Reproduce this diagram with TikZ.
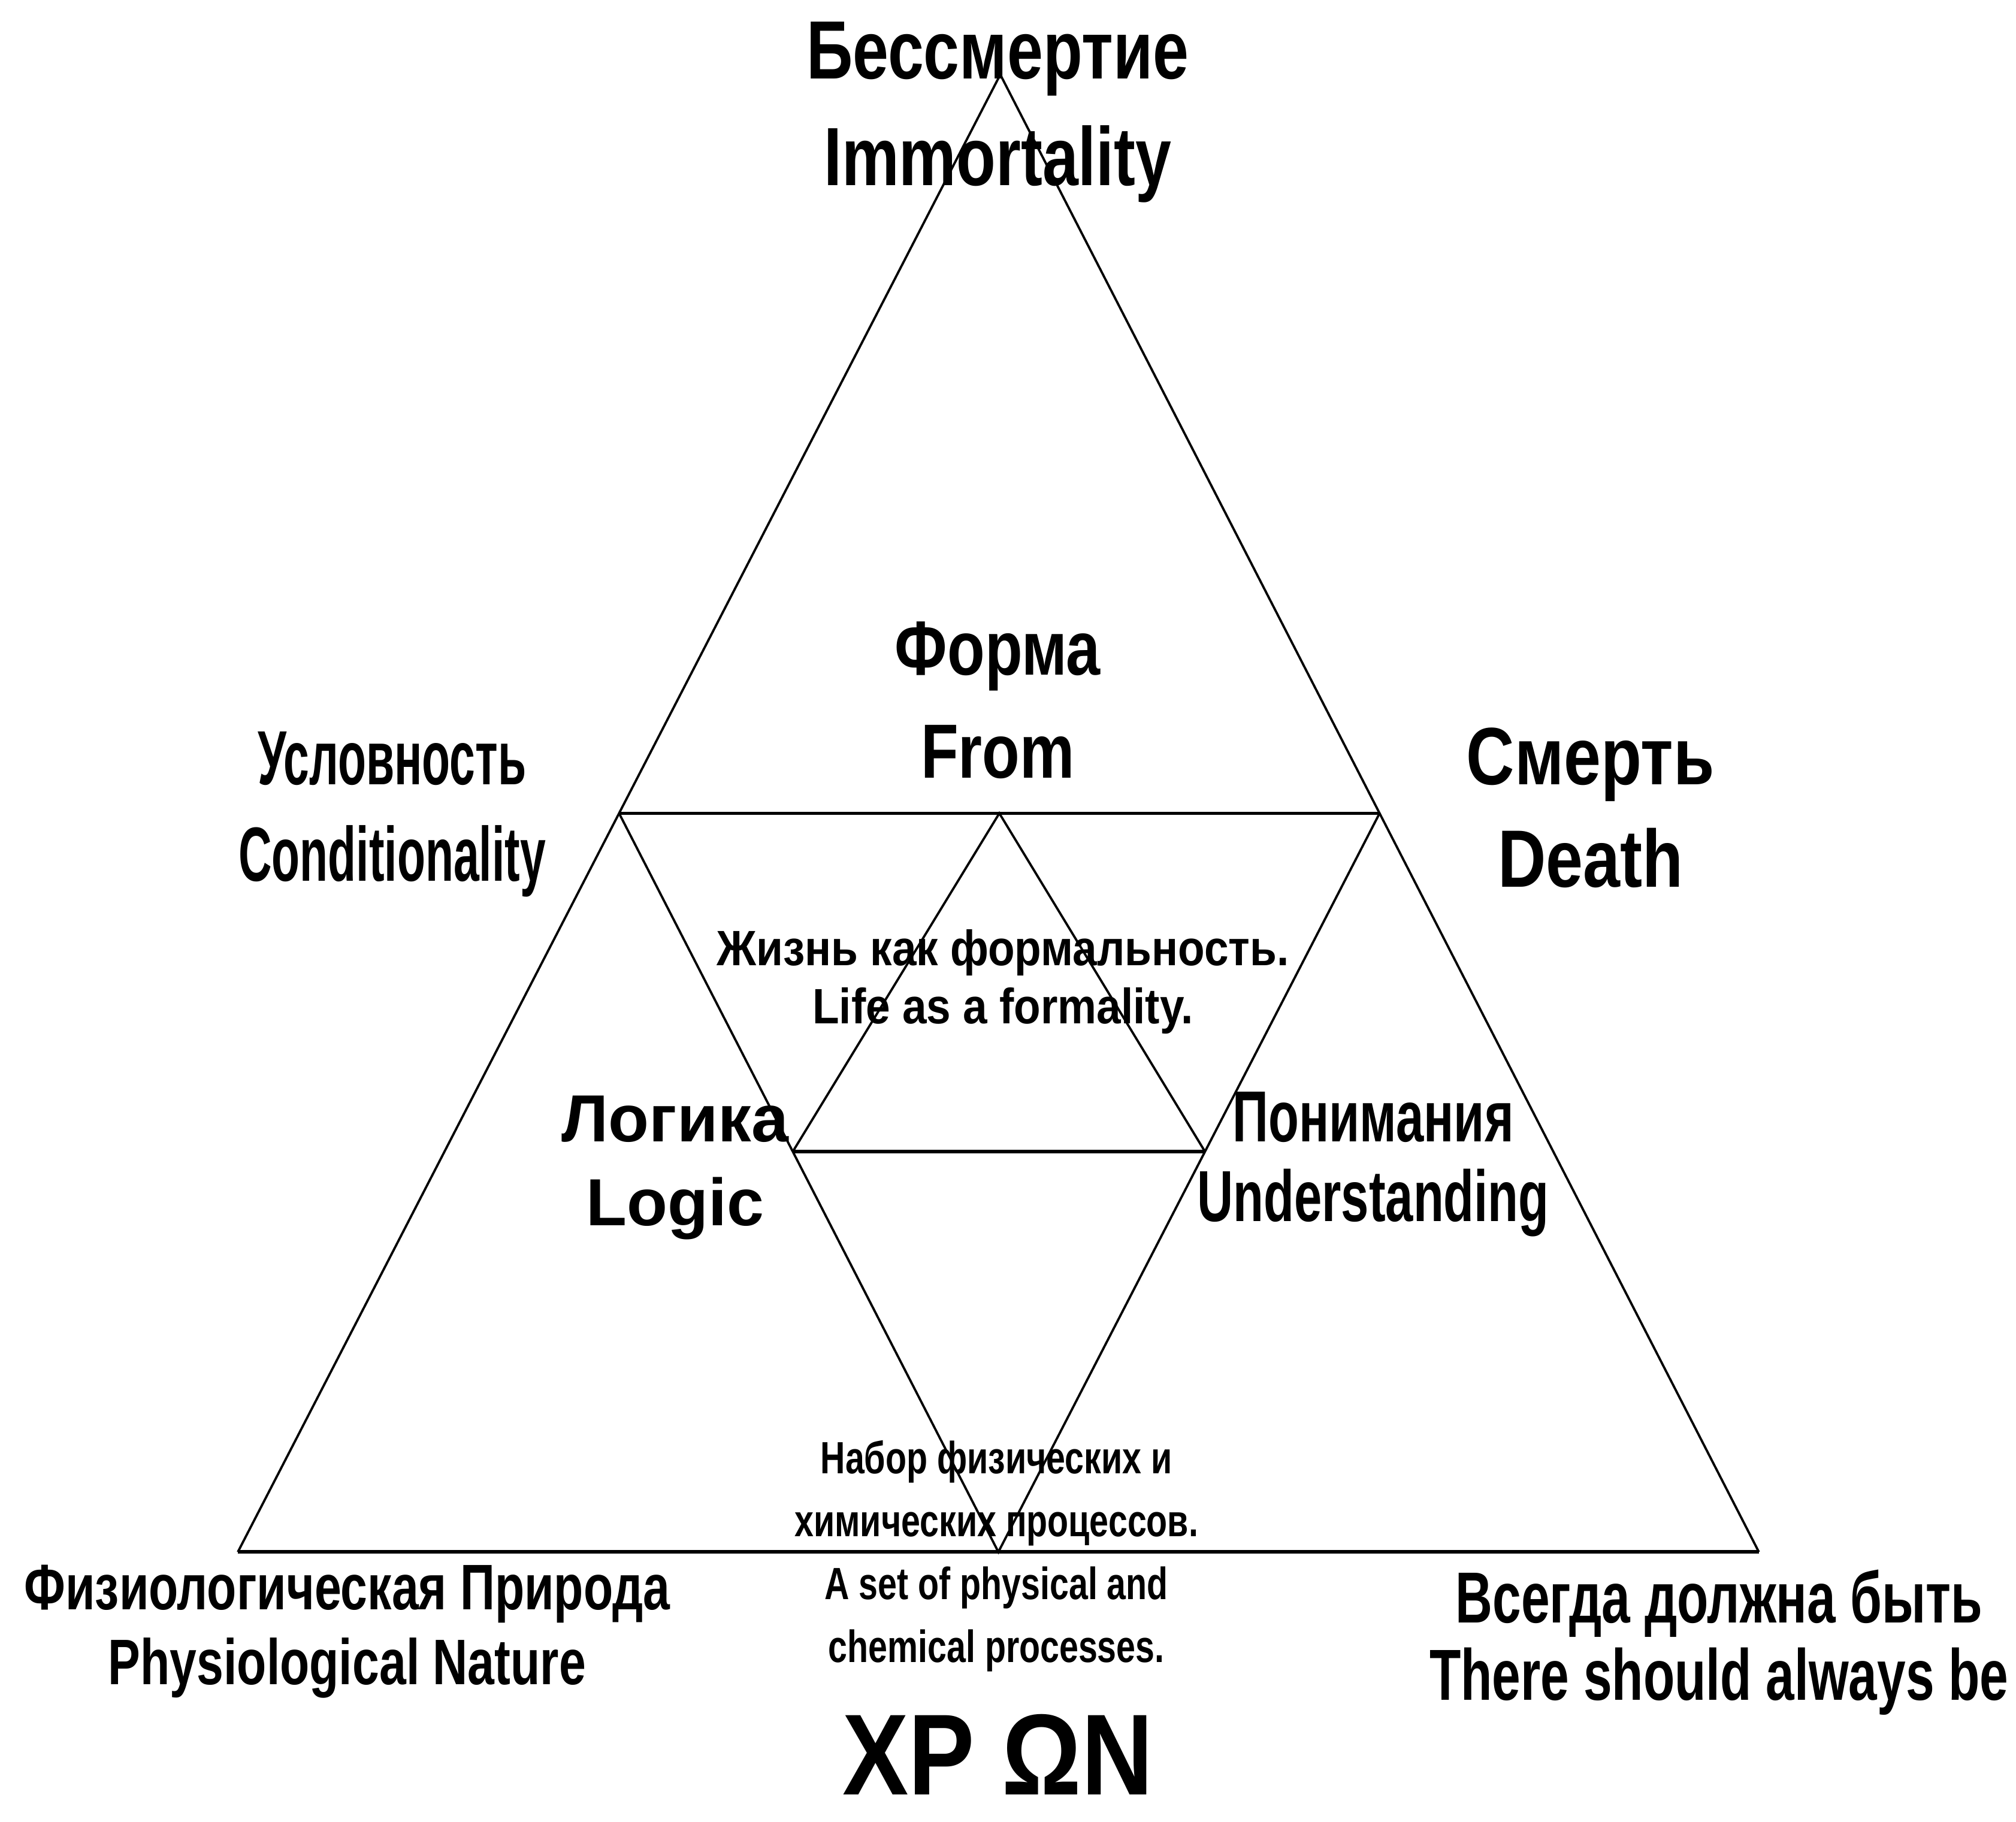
\documentclass[tikz,border=0pt]{standalone}
\usepackage{fontspec}
\setmainfont{Liberation Sans}
\usetikzlibrary{calc}
\newcommand\lblfont[3]{\fontsize{#2pt}{#3pt}\selectfont\bfseries\addfontfeature{FakeStretch=#1}}
\tikzset{
  txt/.style n args={3}{font=\lblfont{#1}{#2}{#3}, align=center, inner sep=0pt, anchor=base},
  side/.style={line width=1pt},
  flat/.style={line width=1.5pt}
}

\begin{document}
\begin{tikzpicture}[x=0.02cm, y=-0.02cm]
\useasboundingbox (0,0) rectangle (1568,1417);
% Corners
\coordinate (top) at (778,58);
\coordinate (left) at (185,1207);
\coordinate (right) at (1368,1207);
\coordinate (midL) at ($(top)!0.5!(left)$);
\coordinate (midR) at ($(top)!0.5!(right)$);
\coordinate (midB) at ($(left)!0.5!(right)$);
\coordinate (midT) at ($(midL)!0.5!(midR)$);
\coordinate (cutL) at ($(midL)!0.458!(midB)$);
\coordinate (cutR) at ($(midR)!0.458!(midB)$);

% Labels (placed at the baseline of their last line)
\node (immortal) [txt={0.78}{36.6}{47.2}] at (776,144) {Бессмертие\\Immortality};
\node (form) [txt={0.8}{34}{45.5}] at (776,605) {Форма\\From};
\node (cond) [txt={0.6}{34}{42.7}] at (305,685) {Условность\\Conditionality};
\node (death) [txt={0.82}{36}{45.5}] at (1237,690) {Смерть\\Death};
\node (life) [txt={0.88}{22}{25.6}] at (780,796) {Жизнь как формальность.\\Life as a formality.};
\node (logic) [txt={1}{29.5}{37}] at (525,953) {Логика\\Logic};
\node (underst) [txt={0.69}{32}{35.3}] at (1068,950) {Понимания\\Understanding};
\node (process) [txt={0.76}{20}{27.9}] at (775,1293) {Набор физических и\\химических процессов.\\A set of physical and\\chemical processes.};
\node (nature) [txt={0.75}{28.5}{33}] at (270,1310) {Физиологическая Природа\\Physiological Nature};
\node (always) [txt={0.71}{32}{34}] at (1337,1322) {Всегда должна быть\\There should always be};
\node (chron) [txt={0.86}{51}{60}] at (776,1396) {XP ΩN};

% Triangles
\draw[side] (left) -- (top) -- (right);
\draw[flat] (left) -- (right);
\draw[side] (midL) -- (midB) -- (midR);
\draw[flat] (midL) -- (midR);
\draw[side] (cutL) -- (midT) -- (cutR);
\draw[flat] (cutL) -- (cutR);
\end{tikzpicture}
\end{document}
